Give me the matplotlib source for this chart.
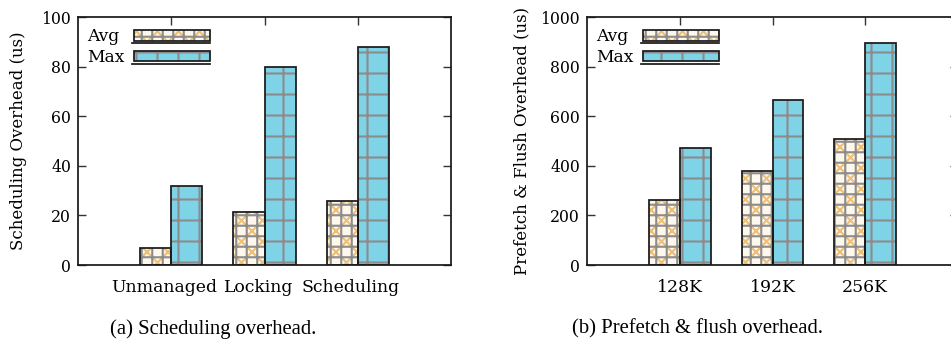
import numpy as np
import matplotlib
matplotlib.use('Agg')
import matplotlib.pyplot as plt
from matplotlib.patches import Rectangle
from matplotlib.lines import Line2D
import matplotlib.transforms as mtransforms

# data
sched_cats = ['Unmanaged', 'Locking', 'Scheduling']
sched_avg = [7, 21.5, 26]
sched_max = [32, 80, 88]

pf_cats = ['128K', '192K', '256K']
pf_avg = [263, 380, 507]
pf_max = [473, 665, 896]

DPI = 126
W, H = 951, 344
AVG_FILL = '#fdf7ec'
AVG_HATCH = '#eebf74'
MAX_FILL = '#7fd3e6'
GRID_HATCH = '#8c8c8c'
FONT = 'DejaVu Serif'

plt.rcParams['hatch.linewidth'] = 1.2

fig = plt.figure(figsize=(W / DPI, H / DPI), dpi=DPI)


def layered_bar(ax, x, h, width, fill, hatch1, color1, grid):
    ax.bar(x, h, width, color=fill, edgecolor=color1, hatch=hatch1, linewidth=0, zorder=2)
    ax.bar(x, h, width, color='none', edgecolor=GRID_HATCH, hatch=grid, linewidth=0, zorder=3)
    ax.bar(x, h, width, color='none', edgecolor='#1a1a1a', linewidth=1.0, zorder=4)


def legend_box(ax, ax_w, ax_h):
    # positions in pixels measured from the top-left corner of the axes
    def fx(px):
        return px / ax_w

    def fy(px):
        return 1 - px / ax_h

    entries = [('Avg', 19, 13, 24, 26, AVG_FILL, 'xx', AVG_HATCH, '++'),
               ('Max', 40, 34, 44, 47, MAX_FILL, None, MAX_FILL, '+')]
    for label, ty, top, bot, uline, fill, h1, c1, grid in entries:
        ax.text(fx(9), fy(ty), label, transform=ax.transAxes, ha='left', va='center',
                family=FONT, size=9.8)
        x0, x1 = fx(56), fx(132)
        for fc, ec, hatch, lw, z in [(fill, c1, h1, 0, 5), ('none', GRID_HATCH, grid, 0, 6),
                                     ('none', '#1a1a1a', None, 1.0, 7)]:
            ax.add_patch(Rectangle((x0, fy(bot)), x1 - x0, fy(top) - fy(bot),
                                   transform=ax.transAxes, facecolor=fc, edgecolor=ec,
                                   hatch=hatch, linewidth=lw, zorder=z, clip_on=False))
        ax.add_line(Line2D([fx(54), x1], [fy(uline), fy(uline)], transform=ax.transAxes,
                           color='#1a1a1a', linewidth=1.0, zorder=7))


def panel(rect, cats, avg, mx, ymax, ystep, ylabel, ylab_px, caption, cap_x, label_shift):
    ax_w, ax_h = rect[2] - rect[0], rect[3] - rect[1]
    ax = fig.add_axes([rect[0] / W, 1 - rect[3] / H, ax_w / W, ax_h / H])
    x = np.arange(len(cats))
    w = 1 / 3
    for i in range(len(cats)):
        layered_bar(ax, x[i] - w / 2, avg[i], w, AVG_FILL, 'xx', AVG_HATCH, '++')
        layered_bar(ax, x[i] + w / 2, mx[i], w, MAX_FILL, None, MAX_FILL, '+')
    ax.set_xlim(-1, 3)
    ax.set_ylim(0, ymax)
    ax.set_yticks(np.arange(0, ymax + 1, ystep))
    ax.set_xticks(x)
    ax.set_xticklabels(cats, family=FONT, size=9.9)
    for lbl in ax.get_yticklabels():
        lbl.set_fontfamily(FONT)
        lbl.set_fontsize(9.0)
    ax.tick_params(axis='x', bottom=False, top=True, labelbottom=True, direction='in',
                   length=4.5, width=0.8, pad=8, color='#333333')
    ax.tick_params(axis='y', left=True, right=True, direction='in', length=4.5, width=0.8,
                   pad=4, color='#333333')
    if label_shift:
        off = mtransforms.ScaledTranslation(label_shift / DPI, 0, fig.dpi_scale_trans)
        for lbl in ax.get_xticklabels():
            lbl.set_transform(lbl.get_transform() + off)
    for s in ax.spines.values():
        s.set_linewidth(1.0)
        s.set_color('#1a1a1a')
    ax.set_ylabel(ylabel, family=FONT, size=9.5)
    ax.yaxis.set_label_coords(ylab_px / ax_w, 0.5)
    legend_box(ax, ax_w, ax_h)
    fig.text(cap_x / W, 1 - 329 / H, caption, ha='center', va='center',
             family='Liberation Serif', size=11.8)
    return ax


panel((78, 17, 451, 265), sched_cats, sched_avg, sched_max, 100, 20,
      'Scheduling Overhead (us)', -51, '(a) Scheduling overhead.', 213, -7)
panel((587, 17, 958, 265), pf_cats, pf_avg, pf_max, 1000, 200,
      'Prefetch & Flush Overhead (us)', -57, '(b) Prefetch & flush overhead.', 697, 0)

fig.savefig('out.png', dpi=DPI)
